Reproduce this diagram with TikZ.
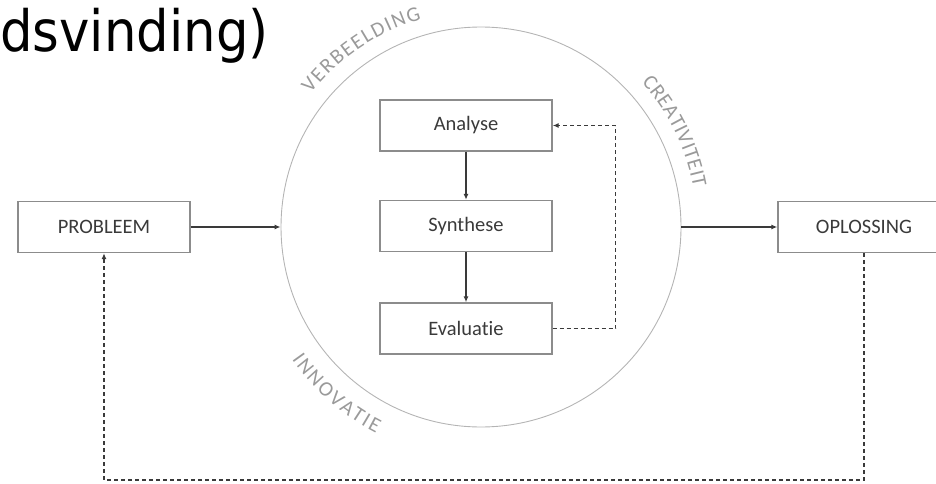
\documentclass[tikz,border=0pt]{standalone}
\usepackage{fontspec}
\setmainfont{Carlito}[Ligatures=CommonOff]
\newfontfamily\titelfont[FakeStretch=0.9]{DejaVu Sans}
\usetikzlibrary{arrows.meta,decorations.text}
\definecolor{rand}{HTML}{8C8C8C}
\definecolor{inkt}{HTML}{3A3A3A}
\definecolor{cirkelgrijs}{HTML}{B4B4B4}
\definecolor{labelgrijs}{HTML}{9A9A9A}
\tikzset{
blok/.style={draw=rand,line width=1.4pt,minimum width=172pt,minimum height=51pt,inner sep=0pt,text=inkt,font=\fontsize{20.5}{24}\selectfont},
pijl/.style={draw=inkt,line width=1.8pt,-{Latex[length=6pt,width=5pt]}},
terug/.style={draw=inkt,line width=1.3pt,dash pattern=on 4pt off 3pt,-{Latex[length=6pt,width=5pt]}},
cirkellabel/.style={decorate,decoration={text along path,text align=fit to path,text={|\fontsize{21}{24}\selectfont\color{labelgrijs}|#1}}}
}
\begin{document}
\begin{tikzpicture}[x=1pt,y=1pt]
\clip (0,0) rectangle (936,483);
%titel
\node[anchor=base west,inner sep=0pt,font=\titelfont\fontsize{57}{66}\selectfont] (titel) at (0,431) {dsvinding)};
%cirkel met labels
\node[circle,draw=cirkelgrijs,line width=0.9pt,minimum size=400pt,inner sep=0pt] (cirkel) at (481,256) {};
\path[cirkellabel=VERBEELDING,shift={(cirkel.center)}] (142:216) arc[start angle=142,end angle=106,radius=216];
\path[cirkellabel=CREATIVITEIT,shift={(cirkel.center)}] (42:216) arc[start angle=42,end angle=10.5,radius=216];
\path[cirkellabel=INNOVATIE,shift={(cirkel.center)}] (215:231) arc[start angle=215,end angle=243,radius=231];
%blokken
\node[blok] (analyse) at (466,357.5) {Analyse};
\node[blok] (synthese) at (466,257) {Synthese};
\node[blok] (evaluatie) at (466,154.5) {Evaluatie};
\node[blok] (probleem) at (104,256) {PROBLEEM};
\node[blok] (oplossing) at (864,256) {OPLOSSING};
\coordinate (onder) at (0,3);
%pijlen
\draw[pijl] (probleem) -- (cirkel);
\draw[pijl] (cirkel) -- (oplossing);
\draw[pijl] (analyse) -- (synthese);
\draw[pijl] (synthese) -- (evaluatie);
%terugkoppeling
\draw[terug] (evaluatie.east) -- ++(63,0) |- (analyse.east);
\draw[terug] (oplossing.south) -- (oplossing.south |- onder) -| (probleem.south);
\end{tikzpicture}
\end{document}
